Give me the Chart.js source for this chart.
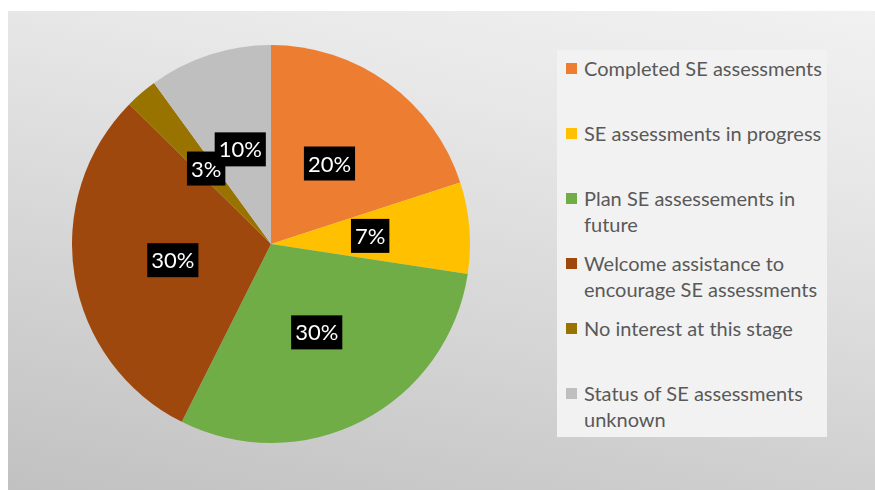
<!DOCTYPE html>
<html>
<head>
<meta charset="utf-8">
<script src="https://cdn.jsdelivr.net/npm/chart.js@4/dist/chart.umd.min.js"></script>
<style>
    html, body { margin: 0; padding: 0; background: #fff; }
    body { width: 875px; height: 490px; position: relative; overflow: hidden; }
    #bg {
        position: absolute; left: 8px; top: 11px; width: 867px; height: 479px;
        background: linear-gradient(12deg, #c1c1c1 0%, #d6d6d6 40%, #e8e8e8 75%, #f1f1f1 100%);
    }
    #pieBox { position: absolute; left: 72px; top: 45px; width: 398px; height: 398px; }
    #legend {
        position: absolute; left: 557px; top: 50px; width: 270px; height: 387px;
        background: #f2f2f2;
        font-family: Lato, "Noto Sans", sans-serif; font-size: 20px; color: #595959;
    }
    .item { position: absolute; left: 9px; width: 260px; }
    .swatch { position: absolute; left: 0; top: 8px; width: 11px; height: 11px; }
    .text { margin-left: 18px; line-height: 26px; width: 245px; }
</style>
</head>
<body>
<div id="bg"></div>
<div id="pieBox"><canvas id="pie"></canvas></div>
<div id="legend"></div>

<script>
var categories = [
    "Completed SE assessments",
    "SE assessments in progress",
    "Plan SE assessements in future",
    "Welcome assistance to encourage SE assessments",
    "No interest at this stage",
    "Status of SE assessments unknown"
];
var shares = [20, 7.4, 30, 30, 2.6, 10];
var colors = ["#ED7D31", "#FFC000", "#70AD47", "#9E480E", "#997300", "#BFBFBF"];

// legend on the right, built from the same arrays
var legend = document.getElementById("legend");
for (var i = 0; i < categories.length; i++) {
    var item = document.createElement("div");
    item.className = "item";
    item.style.top = (5 + i * 65) + "px";
    var sw = document.createElement("div");
    sw.className = "swatch";
    sw.style.background = colors[i];
    var txt = document.createElement("div");
    txt.className = "text";
    txt.textContent = categories[i];
    item.appendChild(sw);
    item.appendChild(txt);
    legend.appendChild(item);
}

// black boxes with white percentages in the middle of each slice
var boxLabels = {
    id: "boxLabels",
    afterDatasetsDraw: function(chart) {
        var ctx = chart.ctx;
        var data = chart.data.datasets[0].data;
        var total = data.reduce(function(a, b) { return a + b; }, 0);
        var arcs = chart.getDatasetMeta(0).data;
        ctx.save();
        ctx.font = "22px Lato, 'Noto Sans', sans-serif";
        ctx.textAlign = "center";
        ctx.textBaseline = "middle";
        for (var i = 0; i < arcs.length; i++) {
            var p = arcs[i].tooltipPosition();
            var label = Math.round(data[i] / total * 100) + "%";
            var w = ctx.measureText(label).width + 8;
            var h = 34;
            ctx.fillStyle = "#000";
            ctx.fillRect(p.x - w / 2, p.y - h / 2, w, h);
            ctx.fillStyle = "#fff";
            ctx.fillText(label, p.x, p.y + 1);
        }
        ctx.restore();
    }
};

new Chart(document.getElementById("pie"), {
    type: "pie",
    data: {
        labels: categories,
        datasets: [{
            data: shares,
            backgroundColor: colors,
            borderWidth: 0
        }]
    },
    options: {
        responsive: true,
        maintainAspectRatio: false,
        animation: false,
        layout: { padding: 0 },
        plugins: {
            legend: { display: false },
            tooltip: { enabled: false }
        }
    },
    plugins: [boxLabels]
});
</script>
</body>
</html>
